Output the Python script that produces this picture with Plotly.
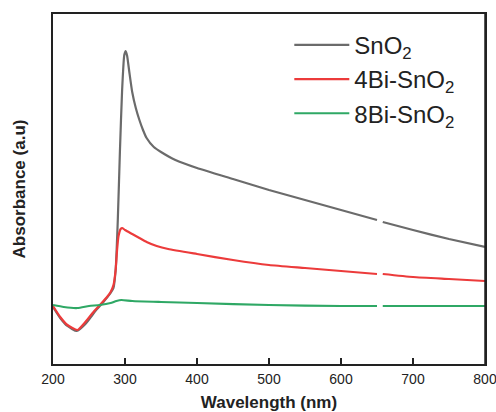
import plotly.graph_objects as go

wl_sno2 = [200, 210, 220, 233, 245, 260, 270, 280, 284, 287, 290, 293, 296, 299, 301, 303, 306, 310,
           315, 320, 325, 330, 340, 350, 370, 400, 450, 500, 550, 600, 650, None, 658, 700, 750, 800]
abs_sno2 = [0.57, 0.46, 0.38, 0.33, 0.40, 0.54, 0.62, 0.71, 0.76, 0.94, 1.44, 2.14, 2.74, 3.09, 3.13, 3.08, 2.92, 2.72,
            2.56, 2.44, 2.34, 2.26, 2.17, 2.12, 2.04, 1.96, 1.85, 1.74, 1.64, 1.54, 1.44, None, 1.42, 1.34, 1.25, 1.17]

wl_4bi = [200, 210, 220, 234, 245, 255, 265, 275, 280, 284, 287, 289, 291, 294, 296, 300, 310, 320, 330,
          344, 360, 400, 450, 500, 550, 600, 650, None, 658, 700, 750, 800]
abs_4bi = [0.58, 0.47, 0.39, 0.34, 0.42, 0.51, 0.59, 0.67, 0.72, 0.79, 0.94, 1.14, 1.28, 1.35, 1.36, 1.34, 1.30, 1.26, 1.22,
           1.18, 1.15, 1.10, 1.04, 0.99, 0.96, 0.93, 0.90, None, 0.90, 0.87, 0.85, 0.83]

wl_8bi = [200, 215, 234, 250, 265, 280, 288, 295, 310, 350, 400, 500, 600, 650, None, 658, 700, 800]
abs_8bi = [0.59, 0.57, 0.56, 0.58, 0.59, 0.61, 0.63, 0.64, 0.63, 0.62, 0.61, 0.59, 0.58, 0.58, None, 0.58, 0.58, 0.58]

x_ticks = [200, 300, 400, 500, 600, 700, 800]

series = [
    ("SnO<sub>2</sub>", wl_sno2, abs_sno2, "#6b6b6b"),
    ("4Bi-SnO<sub>2</sub>", wl_4bi, abs_4bi, "#ec3b3b"),
    ("8Bi-SnO<sub>2</sub>", wl_8bi, abs_8bi, "#2fa865"),
]

fig = go.Figure()
for i, (name, x, y, c) in enumerate(series):
    fig.add_trace(go.Scatter(x=x, y=y, name=name, mode="lines", legendgroup=f"g{i}",
                             line=dict(color=c, width=2.2, shape="spline", smoothing=0.5),
                             connectgaps=False))

fig.update_layout(
    width=496, height=412,
    margin=dict(l=53, r=11, t=14, b=48),
    paper_bgcolor="white", plot_bgcolor="white",
    font=dict(family="Liberation Sans, Arial, sans-serif", color="#222222"),
    showlegend=True,
    legend=dict(x=0.547, y=0.975, xanchor="left", yanchor="top",
                font=dict(size=24, color="#222222"), itemwidth=55,
                bgcolor="rgba(0,0,0,0)", tracegroupgap=0),
    xaxis=dict(range=[200, 800], tickvals=x_ticks, ticks="inside", ticklen=6, tickwidth=1.5,
               tickcolor="#222222", showline=True, linecolor="#222222", linewidth=1.5, mirror=True,
               showgrid=False, zeroline=False, tickfont=dict(size=14), automargin=False,
               ticklabelstandoff=1, ticklabeloverflow="allow",
               title=dict(text="<b>Wavelength (nm)</b>", font=dict(size=17), standoff=19)),
    yaxis=dict(range=[0, 3.5], showticklabels=False, ticks="", showline=True, linecolor="#222222",
               linewidth=1.5, mirror=True, showgrid=False, zeroline=False, automargin=False,
               title=dict(text="<b>Absorbance (a.u)</b>", font=dict(size=17), standoff=21)),
)
fig.add_shape(type="line", xref="paper", yref="paper", x0=1, x1=1, y0=0, y1=1,
              line=dict(color="#222222", width=1.5), layer="above")

fig.write_html("out.html", config={"displayModeBar": False},
               post_script="document.body.style.margin='0';document.body.style.overflow='hidden';")
